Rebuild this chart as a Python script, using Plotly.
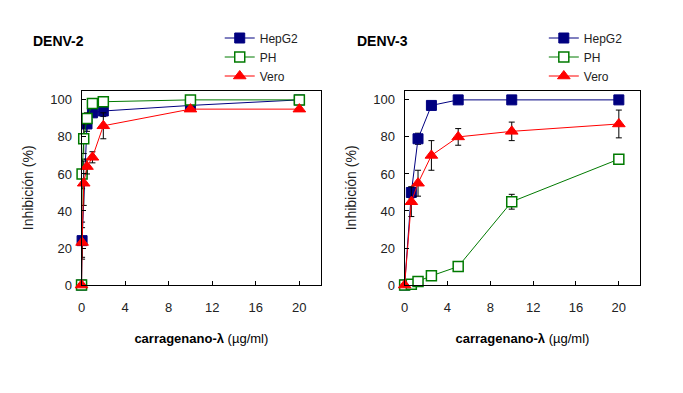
import plotly.graph_objects as go

# ---------------- data ----------------
# DENV-2
d2_hep_x = [0, 0.05, 0.5, 1, 2, 10, 20]
d2_hep_y = [0, 24, 87, 93, 94, 97, 100]
d2_hep_e = [0, 10, 4, 2, 3, 0, 0]

d2_ph_x = [0, 0.05, 0.2, 0.5, 1, 2, 10, 20]
d2_ph_y = [0, 60, 79, 90, 98, 99, 100, 100]
d2_ph_e = [0, 8, 8, 3, 1, 1, 0, 0]

d2_vero_x = [0, 0.05, 0.2, 0.5, 1, 2, 10, 20]
d2_vero_y = [0, 23, 55, 64, 69, 86, 95, 95]
d2_vero_e = [0, 8, 12, 4, 3, 7, 0, 0]

# DENV-3
d3_x = [0, 0.625, 1.25, 2.5, 5, 10, 20]
d3_hep_y = [0, 50, 79, 97, 100, 100, 100]
d3_hep_e = [0, 3, 3, 0, 0, 0, 0]
d3_ph_y = [0, 0.5, 2, 5, 10, 45, 68]
d3_ph_e = [0, 0, 0, 1, 1, 4, 1.5]
d3_vero_y = [0, 45, 55, 70, 80, 83, 87]
d3_vero_e = [0, 8, 7, 8, 4.5, 5, 7.5]

series_names = ["HepG2", "PH", "Vero"]
x_ticks = [0, 4, 8, 12, 16, 20]
y_ticks = [0, 20, 40, 60, 80, 100]

# ---------------- styles ----------------
NAVY = "#000080"
GREEN = "#007a00"
RED = "#ff0000"
FONT = "Liberation Sans, Arial, sans-serif"

styles = {
    "HepG2": dict(line=dict(color=NAVY, width=1),
                  marker=dict(symbol="square", size=10, color=NAVY,
                              line=dict(color=NAVY, width=1))),
    "PH": dict(line=dict(color=GREEN, width=1),
               marker=dict(symbol="square", size=10, color="white",
                           line=dict(color=GREEN, width=1.5))),
    "Vero": dict(line=dict(color=RED, width=1),
                 marker=dict(symbol="triangle-up", size=11, color=RED,
                             line=dict(color=RED, width=1))),
}

def err(arr):
    return dict(type="data", array=arr, color="black", thickness=1, width=3, visible=True)

fig = go.Figure()

panels = [
    ("x", "y", "legend", [(d2_hep_x, d2_hep_y, d2_hep_e),
                          (d2_ph_x, d2_ph_y, d2_ph_e),
                          (d2_vero_x, d2_vero_y, d2_vero_e)]),
    ("x2", "y2", "legend2", [(d3_x, d3_hep_y, d3_hep_e),
                             (d3_x, d3_ph_y, d3_ph_e),
                             (d3_x, d3_vero_y, d3_vero_e)]),
]

for xa, ya, lg, data in panels:
    for name, (xs, ys, es) in zip(series_names, data):
        st = styles[name]
        fig.add_trace(go.Scatter(
            x=xs, y=ys, name=name, mode="lines+markers",
            line=st["line"], marker=st["marker"], error_y=err(es),
            xaxis=xa, yaxis=ya, legend=lg, cliponaxis=False,
        ))

axis_common = dict(
    showline=True, linecolor="black", linewidth=1, mirror=True,
    ticks="inside", ticklen=4, tickcolor="black", showgrid=False,
    zeroline=False, tickfont=dict(family=FONT, size=13, color="#222"),
)

xtitle = dict(text="<b>carragenano-λ</b> (µg/ml)",
              font=dict(family=FONT, size=13, color="black"), standoff=20)
ytitle = dict(text="Inhibición (%)",
              font=dict(family=FONT, size=14, color="#222"), standoff=13)

W, H = 683, 393
ydom = [1 - 291 / H, 1 - 92.5 / H]

fig.update_layout(
    width=W, height=H,
    margin=dict(l=0, r=0, t=0, b=0),
    paper_bgcolor="white", plot_bgcolor="white",
    font=dict(family=FONT),
    xaxis=dict(domain=[78 / W, 319 / W], range=[0, 22], tickvals=x_ticks,
               title=xtitle, anchor="y", ticklabelstandoff=10, **axis_common),
    yaxis=dict(domain=ydom, range=[0, 105], tickvals=y_ticks,
               title=ytitle, anchor="x", ticklabelstandoff=6, **axis_common),
    xaxis2=dict(domain=[403 / W, 640 / W], range=[0, 22], tickvals=x_ticks,
                title=xtitle, anchor="y2", ticklabelstandoff=10, **axis_common),
    yaxis2=dict(domain=ydom, range=[0, 105], tickvals=y_ticks,
                title=ytitle, anchor="x2", ticklabelstandoff=6, **axis_common),
    legend=dict(x=217 / W, y=1 - 24 / H, xanchor="left", yanchor="top",
                bgcolor="rgba(0,0,0,0)", itemwidth=30, tracegroupgap=0,
                font=dict(family=FONT, size=12, color="#222")),
    legend2=dict(x=543 / W, y=1 - 24 / H, xanchor="left", yanchor="top",
                 bgcolor="rgba(0,0,0,0)", itemwidth=30, tracegroupgap=0,
                 font=dict(family=FONT, size=12, color="#222")),
    showlegend=True,
    annotations=[
        dict(text="<b>DENV-2</b>", x=27 / W, y=1 - 42 / H, xref="paper", yref="paper",
             xanchor="left", yanchor="middle", showarrow=False,
             font=dict(family=FONT, size=14, color="black")),
        dict(text="<b>DENV-3</b>", x=353 / W, y=1 - 42 / H, xref="paper", yref="paper",
             xanchor="left", yanchor="middle", showarrow=False,
             font=dict(family=FONT, size=14, color="black")),
    ],
)

fig.write_html("out.html", config={"displayModeBar": False},
               post_script="document.body.style.margin='0';document.body.style.padding='0';")
